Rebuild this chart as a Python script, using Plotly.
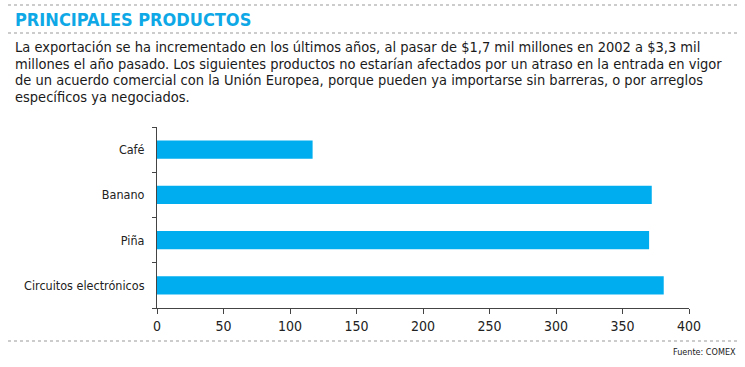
import plotly.graph_objects as go

categories = ["Café", "Banano", "Piña", "Circuitos electrónicos"]
values = [117, 372, 370, 381]
x_ticks = [0, 50, 100, 150, 200, 250, 300, 350, 400]

title_text = "PRINCIPALES PRODUCTOS"
desc_lines = [
    "La exportación se ha incrementado en los últimos años, al pasar de $1,7 mil millones en 2002 a $3,3 mil",
    "millones el año pasado. Los siguientes productos no estarían afectados por un atraso en la entrada en vigor",
    "de un acuerdo comercial con la Unión Europea, porque pueden ya importarse sin barreras, o por arreglos",
    "específicos ya negociados.",
]
source_text = "Fuente: COMEX"

FONT = "Liberation Sans Narrow, DejaVu Sans Condensed, Arial Narrow, sans-serif"
CYAN = "#0FA8E6"
W, H = 745, 367
L, R, T, B = 157, 56, 127, 59
PW, PH = W - L - R, H - T - B

def px(x):
    return (x - L) / PW

def py(y):
    return (H - B - y) / PH

fig = go.Figure(go.Bar(
    y=categories, x=values, orientation="h",
    marker=dict(color="#00AEEF", line=dict(width=0)),
    width=0.4, hoverinfo="x+y",
))

fig.update_layout(
    width=W, height=H,
    margin=dict(l=L, r=R, t=T, b=B),
    paper_bgcolor="white", plot_bgcolor="white",
    showlegend=False,
    font=dict(family=FONT, color="#222222", size=13),
    xaxis=dict(range=[0, 400], tickvals=x_ticks, showgrid=False, zeroline=False,
               showline=True, linecolor="#444444", linewidth=1,
               ticks="outside", ticklen=5, tickcolor="#444444",
               tickfont=dict(size=14, family=FONT, color="#222222"), fixedrange=True),
    yaxis=dict(categoryorder="array", categoryarray=categories[::-1],
               range=[-0.5, 3.5], showgrid=False, zeroline=False,
               showline=True, linecolor="#444444", linewidth=1,
               ticks="outside", ticklen=4, tickcolor="#444444", tickson="boundaries",
               ticklabelstandoff=9,
               tickfont=dict(size=12.5, family=FONT, color="#222222"), fixedrange=True),
)

annotations = [
    dict(text="<b>" + title_text + "</b>", x=px(13), y=py(19), xref="paper", yref="paper",
         xanchor="left", yanchor="middle", showarrow=False,
         font=dict(family=FONT, size=18, color=CYAN)),
    dict(text=source_text, x=px(738), y=py(352), xref="paper", yref="paper",
         xanchor="right", yanchor="middle", showarrow=False,
         font=dict(family=FONT, size=9, color="#222222")),
]
for i, line in enumerate(desc_lines):
    annotations.append(dict(text=line, x=px(13), y=py(47 + i * 16.7), xref="paper", yref="paper",
                            xanchor="left", yanchor="middle", showarrow=False,
                            font=dict(family=FONT, size=14.5, color="#1a1a1a")))
fig.update_layout(annotations=annotations)

shapes = []
for yy, x0, x1 in [(5, 8, 740), (33, 8, 740), (341, 8, 740)]:
    shapes.append(dict(type="line", xref="paper", yref="paper",
                       x0=px(x0), x1=px(x1), y0=py(yy), y1=py(yy),
                       line=dict(color="#999999", width=1, dash="dot")))
fig.update_layout(shapes=shapes)

fig.write_html("out.html", config={"displayModeBar": False},
               post_script="document.body.style.margin='0px';")
